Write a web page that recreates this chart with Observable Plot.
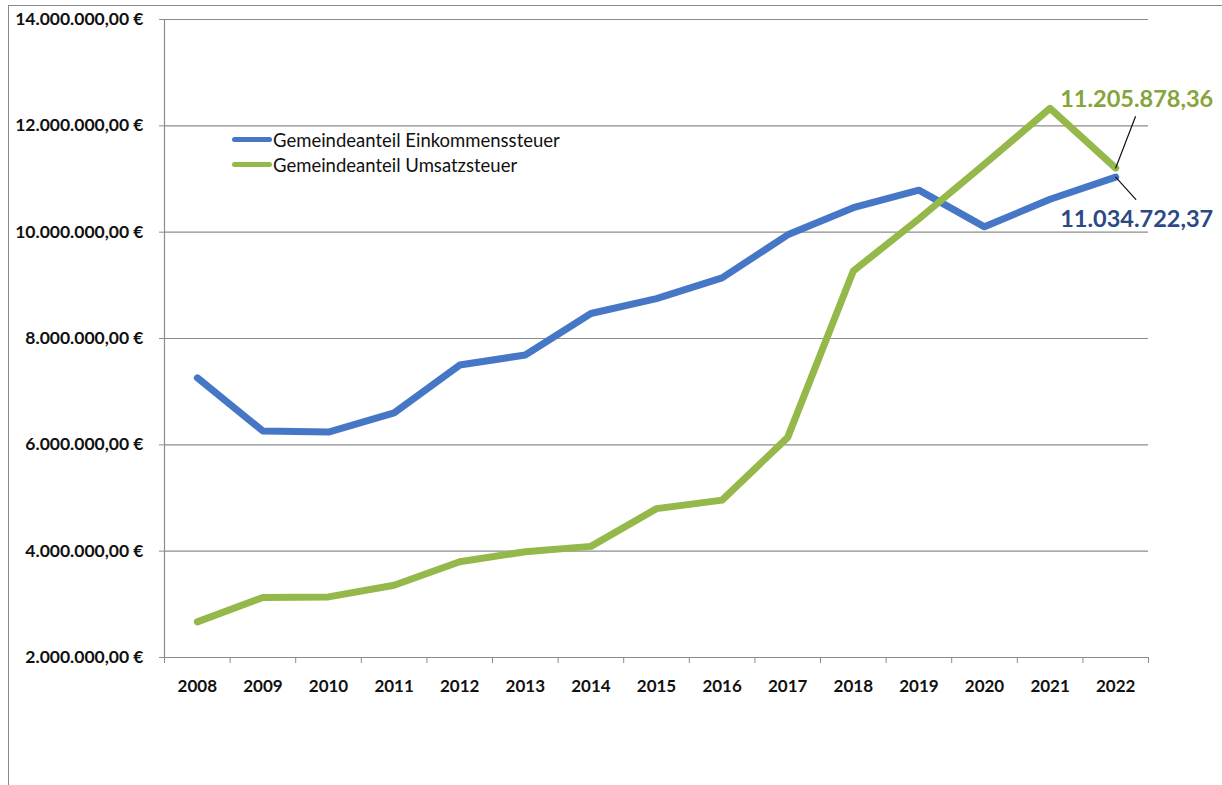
<!DOCTYPE html>
<html>
<head>
<meta charset="utf-8">
<script src="https://cdn.jsdelivr.net/npm/d3@7"></script>
<script src="https://cdn.jsdelivr.net/npm/@observablehq/plot@0.6"></script>
<style>
  html, body { margin: 0; padding: 0; background: #fff; }
  #wrap { position: relative; width: 1222px; height: 785px; overflow: hidden; font-family: Lato, "Open Sans", sans-serif; }
  #frame { position: absolute; left: 8px; top: 5px; width: 1214px; height: 790px; border-top: 1.5px solid #8a8a8a; border-left: 1.5px solid #8a8a8a; }
  #legend { position: absolute; left: 232px; top: 127px; font-size: 18.5px; color: #111; }
  .item { display: flex; align-items: center; height: 25px; }
  .sw { width: 40px; height: 5px; border-radius: 3px; margin-right: 1px; }
  svg { position: absolute; left: 0; top: 0; }
</style>
</head>
<body>
<div id="wrap">
  <div id="frame"></div>
</div>
<script>
const years = [2008, 2009, 2010, 2011, 2012, 2013, 2014, 2015, 2016, 2017, 2018, 2019, 2020, 2021, 2022];
const einkommen = [7260000, 6260000, 6240000, 6600000, 7500000, 7690000, 8470000, 8750000, 9140000, 9950000, 10460000, 10790000, 10100000, 10620000, 11034722.37];
const umsatz = [2670000, 3130000, 3140000, 3360000, 3800000, 3990000, 4090000, 4800000, 4960000, 6140000, 9270000, 10250000, 11280000, 12330000, 11205878.36];
const seriesNames = ["Gemeindeanteil Einkommenssteuer", "Gemeindeanteil Umsatzsteuer"];
const colors = ["#4677C6", "#94B84A"];
const labelColors = ["#2B4A85", "#86A33C"];
const yTicks = [2000000, 4000000, 6000000, 8000000, 10000000, 12000000, 14000000];

const de = d3.formatLocale({decimal: ",", thousands: ".", grouping: [3], currency: ["", " €"]});
const fmtMoney = de.format(",.2f");

const rowsE = years.map((y, i) => ({year: y, value: einkommen[i]}));
const rowsU = years.map((y, i) => ({year: y, value: umsatz[i]}));
const boundaries = [years[0] - 0.5, ...years.map(y => y + 0.5)];
const lastE = rowsE[rowsE.length - 1];
const lastU = rowsU[rowsU.length - 1];

const chart = Plot.plot({
  width: 1222,
  height: 785,
  marginLeft: 164,
  marginRight: 74,
  marginTop: 19,
  marginBottom: 128,
  style: {fontFamily: "Lato, 'Open Sans', sans-serif", background: "transparent", overflow: "visible"},
  x: {type: "linear", domain: [boundaries[0], boundaries[boundaries.length - 1]]},
  y: {domain: [yTicks[0], yTicks[yTicks.length - 1]]},
  marks: [
    Plot.gridY(yTicks, {stroke: "#8c8c8c", strokeOpacity: 1, strokeWidth: 1.2}),
    Plot.ruleX([boundaries[0]], {stroke: "#8c8c8c", strokeWidth: 1.2}),
    Plot.axisY(yTicks, {tickFormat: d => fmtMoney(d) + " €", tickSize: 5, tickPadding: 16, stroke: "#8c8c8c", fill: "#111", fontSize: 17.5, fontWeight: "bold", label: null}),
    Plot.axisX(boundaries, {tickFormat: () => "", tickSize: 6, stroke: "#8c8c8c", label: null}),
    Plot.axisX(years, {tickFormat: d => String(d), tickSize: 0, tickPadding: 22, fill: "#111", fontSize: 17, fontWeight: "bold", label: null}),
    Plot.line(rowsE, {x: "year", y: "value", stroke: colors[0], strokeWidth: 7, strokeLinejoin: "round"}),
    Plot.line(rowsU, {x: "year", y: "value", stroke: colors[1], strokeWidth: 7, strokeLinejoin: "round"}),
    Plot.vector([lastU], {x: "year", y: "value", length: 55, rotate: 21, anchor: "start", stroke: "#111", strokeWidth: 1.2, shape: {draw(ctx, l) { ctx.moveTo(0, 0); ctx.lineTo(0, -l); }}}),
    Plot.vector([lastE], {x: "year", y: "value", length: 30, rotate: 138, anchor: "start", stroke: "#111", strokeWidth: 1.2, shape: {draw(ctx, l) { ctx.moveTo(0, 0); ctx.lineTo(0, -l); }}}),
    Plot.text([lastU], {x: "year", y: "value", text: d => fmtMoney(d.value), dx: 21, dy: -69, fill: labelColors[1], fontSize: 23.5, fontWeight: "bold", textAnchor: "middle"}),
    Plot.text([lastE], {x: "year", y: "value", text: d => fmtMoney(d.value), dx: 21, dy: 42, fill: labelColors[0], fontSize: 23.5, fontWeight: "bold", textAnchor: "middle"})
  ]
});
const wrap = document.getElementById("wrap");
wrap.appendChild(chart);

const legend = document.createElement("div");
legend.id = "legend";
seriesNames.forEach((name, i) => {
  const it = document.createElement("div");
  it.className = "item";
  const sw = document.createElement("span");
  sw.className = "sw";
  sw.style.background = colors[i];
  const tx = document.createElement("span");
  tx.textContent = name;
  it.appendChild(sw);
  it.appendChild(tx);
  legend.appendChild(it);
});
wrap.appendChild(legend);
</script>
</body>
</html>
